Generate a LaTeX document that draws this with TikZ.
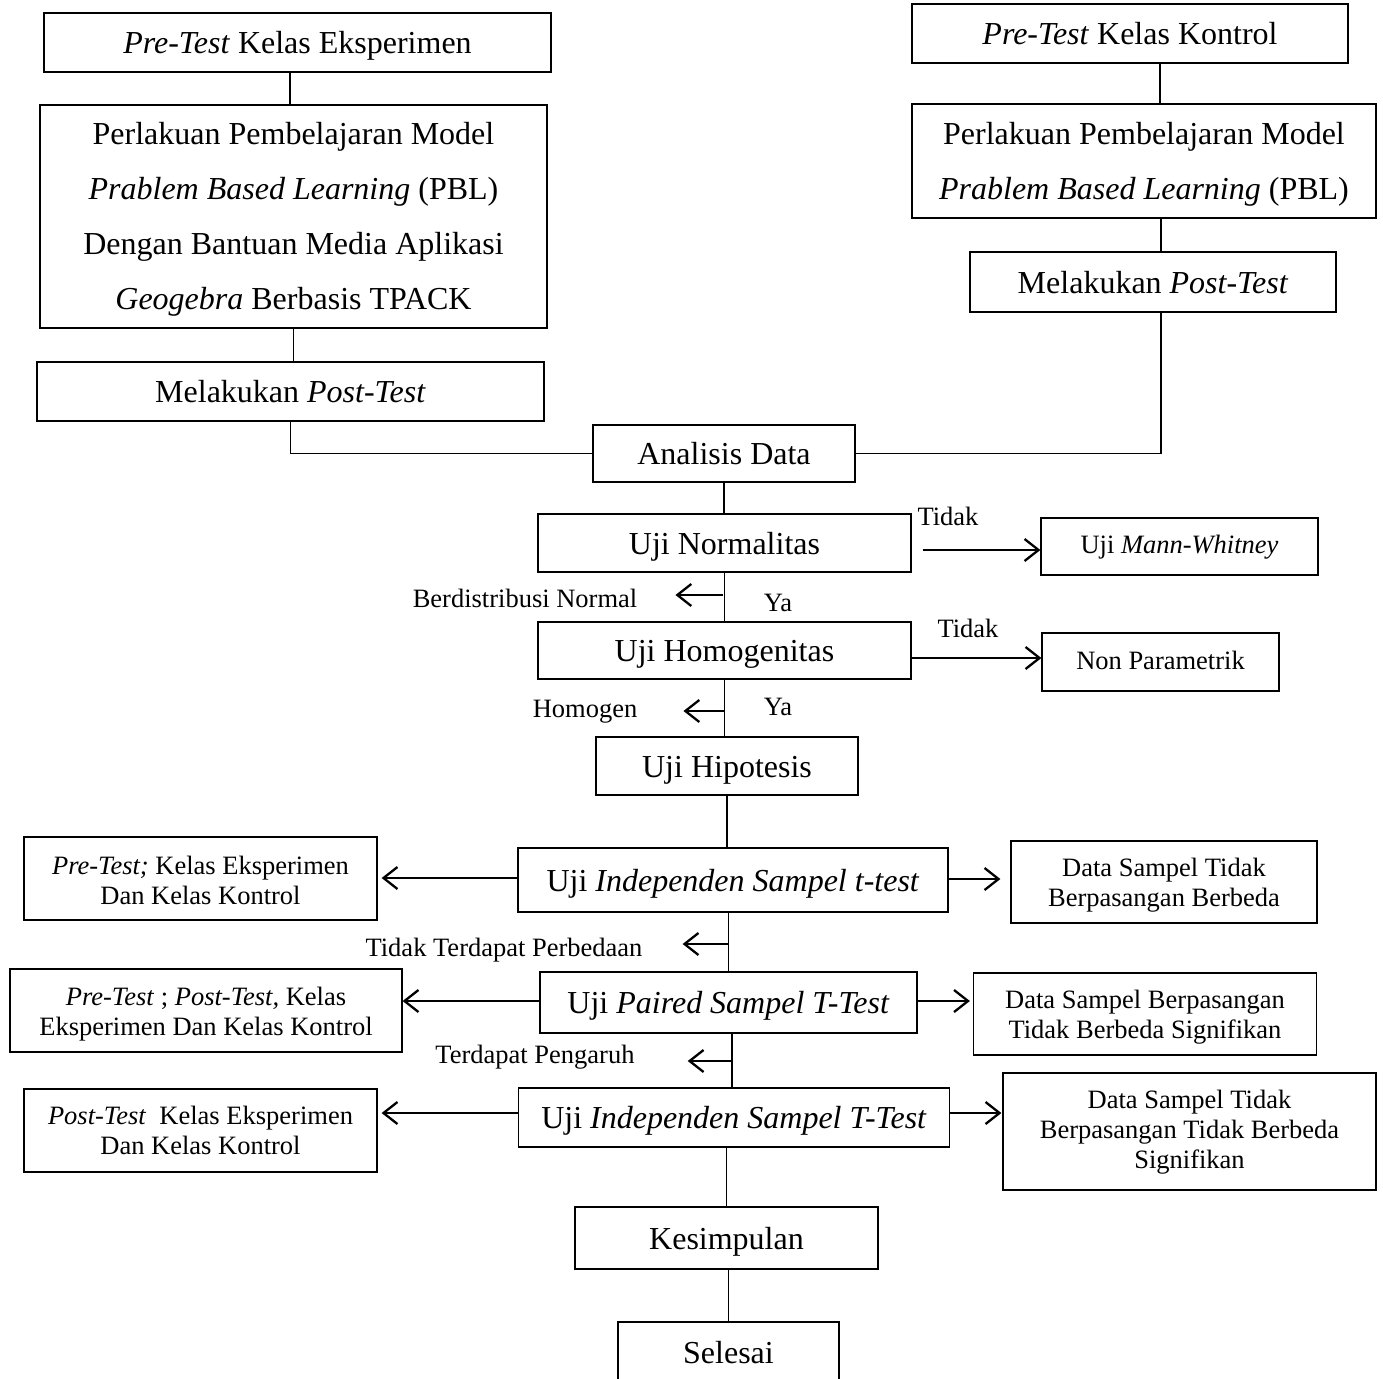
\documentclass[tikz,border=0pt]{standalone}
\usepackage{fontspec}
\setmainfont{Liberation Serif}
\usetikzlibrary{arrows.meta}
\tikzset{
  box/.style={draw, line width=1.2pt, inner sep=0pt, align=center, anchor=center},
  big/.style={font=\fontsize{32}{55}\selectfont,
    execute at begin node={\rule{0pt}{30pt}},
    execute at end node={\rule[-8pt]{0pt}{0pt}}},
  small/.style={font=\fontsize{26.5}{30}\selectfont,
    execute at begin node={\rule{0pt}{21pt}},
    execute at end node={\rule[-7pt]{0pt}{0pt}}},
  bigtext/.style={inner sep=0pt, align=center, font=\fontsize{32}{55}\selectfont},
  smalltext/.style={inner sep=0pt, align=center, font=\fontsize{26.5}{30}\selectfont},
  conn/.style={line width=1.2pt},
  arr/.style={line width=2.3pt, -{Straight Barb[length=14pt,width=22pt,line width=2.3pt]}},
  lbl/.style={inner sep=0pt, font=\fontsize{26.5}{30}\selectfont},
}
\begin{document}
\begin{tikzpicture}[x=1pt,y=-1pt]
\useasboundingbox (0,0) rectangle (1383,1378);
\clip (0,0) rectangle (1383,1378);
\fill[white] (0,0) rectangle (1383,1378);

% left column
\node[box,big,minimum width=507pt,minimum height=59pt] (A) at (297.5,42.5) {\textit{Pre-Test} Kelas Eksperimen};
\node[box,minimum width=507pt,minimum height=223pt] (B) at (293.5,216.5) {};
\node[bigtext] (Bt) at ([yshift=-3pt]B.center) {Perlakuan Pembelajaran Model\\\textit{Prablem Based Learning} (PBL)\\Dengan Bantuan Media Aplikasi\\\textit{Geogebra} Berbasis TPACK};
\node[box,big,minimum width=507pt,minimum height=59pt] (C) at (290.5,391.5) {Melakukan \textit{Post-Test}};

% right column
\node[box,big,minimum width=436pt,minimum height=59pt] (D) at (1130,33.5) {\textit{Pre-Test} Kelas Kontrol};
\node[box,minimum width=464pt,minimum height=114pt] (E) at (1144,161) {};
\node[bigtext] (Et) at ([yshift=-3pt]E.center) {Perlakuan Pembelajaran Model\\\textit{Prablem Based Learning} (PBL)};
\node[box,big,minimum width=366pt,minimum height=60pt] (F) at (1153,282) {Melakukan \textit{Post-Test}};

% centre column
\node[box,big,minimum width=262pt,minimum height=57pt] (An) at (724,453.5) {Analisis Data};
\node[box,big,minimum width=373pt,minimum height=58pt] (N) at (724.5,543) {Uji Normalitas};
\node[box,small,minimum width=277pt,minimum height=57pt] (MW) at (1179.5,546.5) {Uji \textit{Mann-Whitney}};
\node[box,big,minimum width=373pt,minimum height=57pt] (H) at (724.5,650.5) {Uji Homogenitas};
\node[box,small,minimum width=237pt,minimum height=58pt] (NP) at (1160.5,662) {Non Parametrik};
\node[box,big,minimum width=262pt,minimum height=58pt] (Hp) at (727,766) {Uji Hipotesis};

\node[box,big,minimum width=430pt,minimum height=64pt] (T1) at (733,880) {Uji \textit{Independen Sampel t-test}};
\node[box,minimum width=353pt,minimum height=83pt] (L1) at (200.5,878.5) {};
\node[smalltext] (L1t) at ([yshift=-2pt]L1.center) {\textit{Pre-Test;} Kelas Eksperimen\\Dan Kelas Kontrol};
\node[box,minimum width=306pt,minimum height=82pt] (R1) at (1164,882) {};
\node[smalltext] (R1t) at ([yshift=-3pt]R1.center) {Data Sampel Tidak\\Berpasangan Berbeda};

\node[box,big,minimum width=377pt,minimum height=61pt] (P) at (728.5,1002.5) {Uji \textit{Paired Sampel T-Test}};
\node[box,minimum width=392pt,minimum height=83pt] (L2) at (206,1010.5) {};
\node[smalltext] (L2t) at ([yshift=-3.5pt]L2.center) {\textit{Pre-Test} ; \textit{Post-Test,} Kelas\\Eksperimen Dan Kelas Kontrol};
\node[box,minimum width=343pt,minimum height=82pt] (R2) at (1145,1014) {};
\node[smalltext] (R2t) at ([yshift=-3pt]R2.center) {Data Sampel Berpasangan\\Tidak Berbeda Signifikan};

\node[box,big,minimum width=431pt,minimum height=59pt] (T2) at (734,1117.5) {Uji \textit{Independen Sampel T-Test}};
\node[box,minimum width=353pt,minimum height=83pt] (L3) at (200.5,1130.5) {};
\node[smalltext] (L3t) at (L3.center) {\textit{Post-Test}\ \ Kelas Eksperimen\\Dan Kelas Kontrol};
\node[box,minimum width=373pt,minimum height=117pt] (R3) at (1189.5,1131.5) {};
\node[smalltext] (R3t) at ([yshift=-1pt]R3.center) {Data Sampel Tidak\\Berpasangan Tidak Berbeda\\Signifikan};

\node[box,big,minimum width=303pt,minimum height=62pt] (K) at (726.5,1238) {Kesimpulan};
\node[box,big,minimum width=221pt,minimum height=60pt] (S) at (728.5,1352) {Selesai};

% labels
\node[lbl] (t1) at (948,516) {Tidak};
\node[lbl] (bn) at (525,598) {Berdistribusi Normal};
\node[lbl] (y1) at (778,603) {Ya};
\node[lbl] (t2) at (968,628) {Tidak};
\node[lbl] (hm) at (585,712) {Homogen};
\node[lbl] (y2) at (778,707) {Ya};
\node[lbl] (ttp) at (504,950) {Tidak Terdapat Perbedaan};
\node[lbl] (tp) at (535,1057) {Terdapat Pengaruh};

% connectors
\draw[conn] ([xshift=-7.5pt]A.south) -- ([xshift=-7.5pt]A.south |- B.north);
\draw[conn] (B.south) -- (B.south |- C.north);
\draw[conn] (C.south) |- (An.west);
\draw[conn] ([xshift=30pt]D.south) -- ([xshift=30pt]D.south |- E.north);
\draw[conn] ([xshift=17pt]E.south) -- ([xshift=17pt]E.south |- F.north);
\draw[conn] ([xshift=8pt]F.south) |- (An.east);
\draw[conn] (An.south) -- (An.south |- N.north);
\draw[conn] (N.south) -- (N.south |- H.north);
\draw[conn] (H.south) -- (H.south |- Hp.north);
\draw[conn] (Hp.south) -- (Hp.south |- T1.north);
\draw[conn] (P.north |- T1.south) -- (P.north);
\draw[conn] ([xshift=3.5pt]P.south) -- ([xshift=3.5pt]P.south |- T2.north);
\draw[conn] (K.north |- T2.south) -- (K.north);
\draw[conn] (S.north |- K.south) -- (S.north);

% side arrows
\coordinate (aN) at ([xshift=11pt,yshift=-7pt]N.east);
\draw[arr] (aN) -- (aN -| MW.west);
\coordinate (aH) at ([yshift=-7.5pt]H.east);
\draw[arr] (aH) -- (aH -| NP.west);
\coordinate (aBN) at (723,595);
\draw[arr] (aBN) -- ([xshift=38pt]bn.east |- aBN);
\coordinate (aHM) at (724,711);
\draw[arr] (aHM) -- ([xshift=46pt]hm.east |- aHM);
\coordinate (aTTP) at (728,944);
\draw[arr] (aTTP) -- ([xshift=40pt]ttp.east |- aTTP);
\coordinate (aTP) at (732,1061);
\draw[arr] (aTP) -- ([xshift=53pt]tp.east |- aTP);

\coordinate (a1) at ([yshift=2pt]T1.west);
\draw[arr] (a1) -- ([xshift=4pt]a1 -| L1.east);
\coordinate (b1) at ([yshift=1pt]T1.east);
\draw[arr] (b1) -- ([xshift=-10pt]b1 -| R1.west);
\coordinate (a2) at ([yshift=1.5pt]P.west);
\draw[arr] (a2) -- (a2 -| L2.east);
\coordinate (b2) at ([yshift=1.5pt]P.east);
\draw[arr] (b2) -- ([xshift=-3pt]b2 -| R2.west);
\coordinate (a3) at ([yshift=4.5pt]T2.west);
\draw[arr] (a3) -- ([xshift=4pt]a3 -| L3.east);
\coordinate (b3) at ([yshift=4.5pt]T2.east);
\draw[arr] (b3) -- ([xshift=-1pt]b3 -| R3.west);
\end{tikzpicture}
\end{document}
